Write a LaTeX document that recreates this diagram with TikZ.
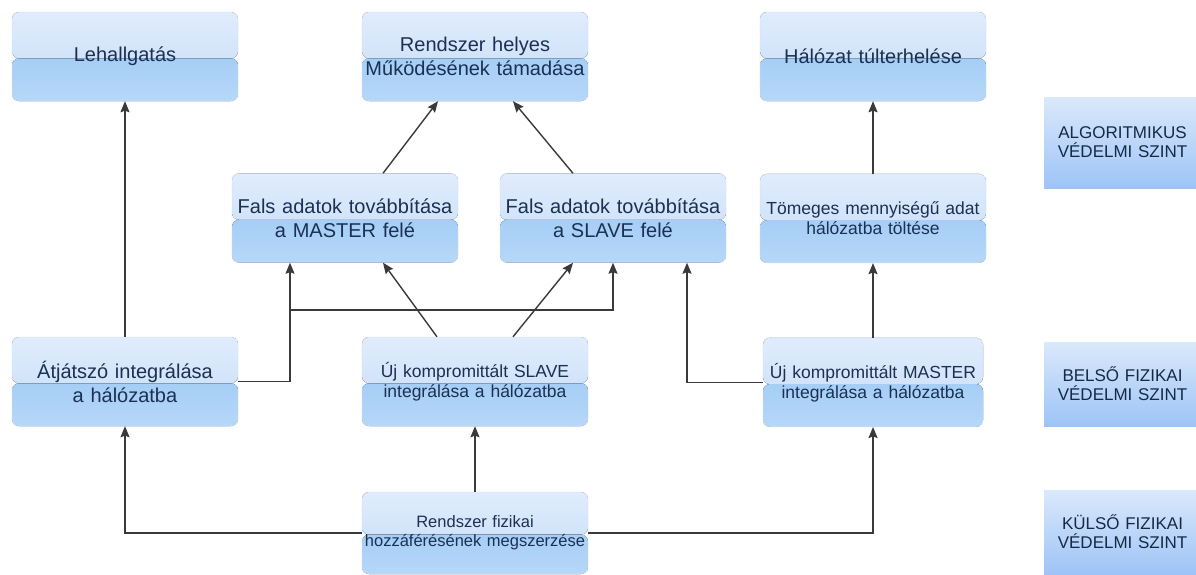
\documentclass[tikz,border=0pt]{standalone}
\usepackage{fontspec}
\setmainfont{Liberation Sans}
\usetikzlibrary{calc}
\usetikzlibrary{positioning}
\usetikzlibrary{arrows.meta}
\definecolor{boxtop}{HTML}{E0ECFC}
\definecolor{boxmid}{HTML}{C4DCF8}
\definecolor{boxlow}{HTML}{A6CEF6}
\definecolor{boxbot}{HTML}{B6D7F8}
\definecolor{boxline}{HTML}{CFE0F3}
\definecolor{szoveg}{HTML}{1A3152}
\definecolor{vonal}{HTML}{3A3A3A}
\tikzset{
	>={Stealth[length=11pt,width=9pt,inset=1.5pt]},
	punkt/.style={
		rectangle,
		rounded corners=7pt,
		draw=boxline, thin,
		minimum width=226pt,
		minimum height=89pt,
		inner xsep=1pt,
		text width=224pt,
		align=center,
		text=szoveg,
		font=\fontsize{20}{24}\selectfont,
		path picture={
			\fill[top color=boxtop, bottom color=boxmid]
				(path picture bounding box.north west) rectangle
				($(path picture bounding box.north east)!0.52!(path picture bounding box.south east)$);
			\fill[top color=boxlow, bottom color=boxbot]
				($(path picture bounding box.north west)!0.52!(path picture bounding box.south west)$) rectangle
				(path picture bounding box.south east);
		}},
	kispunkt/.style={punkt, font=\fontsize{17.5}{20}\selectfont},
	szint/.style={
		rectangle,
		top color=boxtop!80!boxmid,
		bottom color=boxlow!95!blue,
		minimum width=155pt,
		text width=150pt,
		align=center,
		text=szoveg!85!black,
		font=\fontsize{17}{19}\selectfont},
	line/.style={draw=vonal, line width=1.4pt, ->},
}
\begin{document}
\begin{tikzpicture}
	[x=1pt, y=-1pt, node distance=72.5pt]
	\fill[white] (0,0) rectangle (1196,574);
	\useasboundingbox (0,0) rectangle (1196,574);
	% felso sor
	\node[punkt] (lehal) at (125,56.5) {Lehallgatás};
	\node[punkt] (rendszer) at (475,56.5) {Rendszer helyes\\Működésének támadása};
	\node[punkt] (halo) at (873,56.5) {Hálózat túlterhelése};
	% masodik sor
	\node[punkt] (falsm) at (345,218) {Fals adatok továbbítása\\a MASTER felé};
	\node[punkt] (falss) at (613,218) {Fals adatok továbbítása\\a SLAVE felé};
	\node[kispunkt, below=of halo] (tomeg) {Tömeges mennyiségű adat\\hálózatba töltése};
	% harmadik sor
	\node[punkt] (atjat) at (125,381.5) {Átjátszó integrálása\\a hálózatba};
	\node[kispunkt] (ujslave) at (475,381.5) {Új kompromittált SLAVE\\integrálása a hálózatba};
	\node[kispunkt, minimum width=220pt, text width=218pt, below=74.5pt of tomeg] (ujmaster) {Új kompromittált MASTER\\integrálása a hálózatba};
	% also sor
	\node[punkt, minimum height=82pt, font=\fontsize{16.5}{19}\selectfont] (fizikai) at (475,533) {Rendszer fizikai\\hozzáférésének megszerzése};
	% szintek
	\node[szint, minimum height=91pt] (algo) at (1122.5,142.5) {ALGORITMIKUS\\VÉDELMI SZINT};
	\node[szint, minimum height=84pt] (belso) at (1122.5,384) {BELSŐ FIZIKAI\\VÉDELMI SZINT};
	\node[szint, minimum height=84pt] (kulso) at (1122.5,532) {KÜLSŐ FIZIKAI\\VÉDELMI SZINT};
	% nyilak
	\coordinate (elag) at (290,310);
	\draw[line] (atjat.north) -- (lehal.south);
	\draw[line] ([xshift=38pt]falsm.north) -- ([xshift=-37pt]rendszer.south);
	\draw[line] ([xshift=-40pt]falss.north) -- ([xshift=38pt]rendszer.south);
	\draw[line] (tomeg.north) -- (halo.south);
	\draw[line] (atjat.east) -| ([xshift=-55pt]falsm.south);
	\draw[line] (elag) -| (falss.south);
	\draw[line] ([xshift=-38pt]ujslave.north) -- ([xshift=38pt]falsm.south);
	\draw[line] ([xshift=38pt]ujslave.north) -- ([xshift=-40pt]falss.south);
	\draw[line] (ujmaster.west) -| ([xshift=74pt]falss.south);
	\draw[line] (ujmaster.north) -- (tomeg.south);
	\draw[line] (fizikai.west) -| (atjat.south);
	\draw[line] (fizikai.north) -- (ujslave.south);
	\draw[line] (fizikai.east) -| (ujmaster.south);
\end{tikzpicture}
\end{document}
